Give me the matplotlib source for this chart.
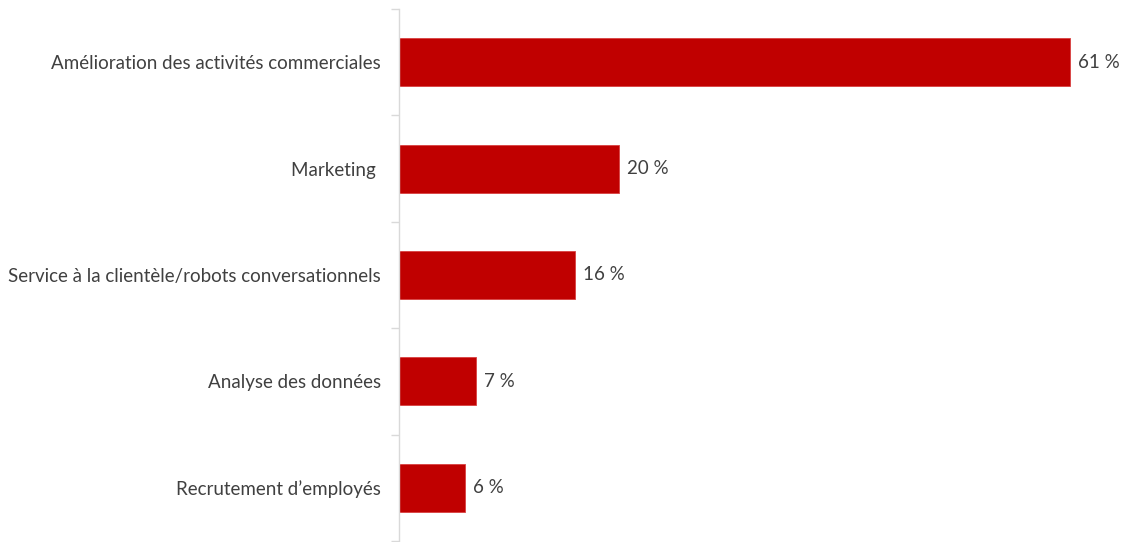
import matplotlib.pyplot as plt

# Utilisations de l'IA par les entreprises (% des répondants)
categories = [
    "Amélioration des activités commerciales",
    "Marketing ",
    "Service à la clientèle/robots conversationnels",
    "Analyse des données",
    "Recrutement d\u2019employés",
]
values = [61, 20, 16, 7, 6]

bar_color = "#C00000"
text_color = "#404040"
axis_color = "#D9D9D9"

plt.rcParams["font.family"] = ["Lato", "DejaVu Sans"]

fig = plt.figure(figsize=(11.21, 5.42), dpi=100)
ax = fig.add_axes([399 / 1121, 1 / 542, 722 / 1121, 532 / 542])

pos = list(range(len(categories)))
ax.barh(pos, values, height=0.45, color=bar_color, edgecolor="#D84040", linewidth=0.6)

for y, v in zip(pos, values):
    ax.text(v + 0.7, y, f"{v} %", va="center", ha="left", fontsize=13.5, color=text_color)

ax.set_ylim(len(categories) - 0.5, -0.5)
ax.set_xlim(0, 722 / 11)

ax.set_yticks(pos)
ax.set_yticklabels(categories, fontsize=13.5, color=text_color)
ax.tick_params(axis="y", length=0, pad=13)
# small separator ticks between categories
ax.set_yticks([p - 0.5 for p in range(len(categories) + 1)], minor=True)
ax.tick_params(axis="y", which="minor", length=6, color=axis_color, width=1)

ax.set_xticks([])
for side in ["top", "right", "bottom"]:
    ax.spines[side].set_visible(False)
ax.spines["left"].set_color(axis_color)
ax.spines["left"].set_linewidth(1)

fig.savefig("out.png", dpi=100)
